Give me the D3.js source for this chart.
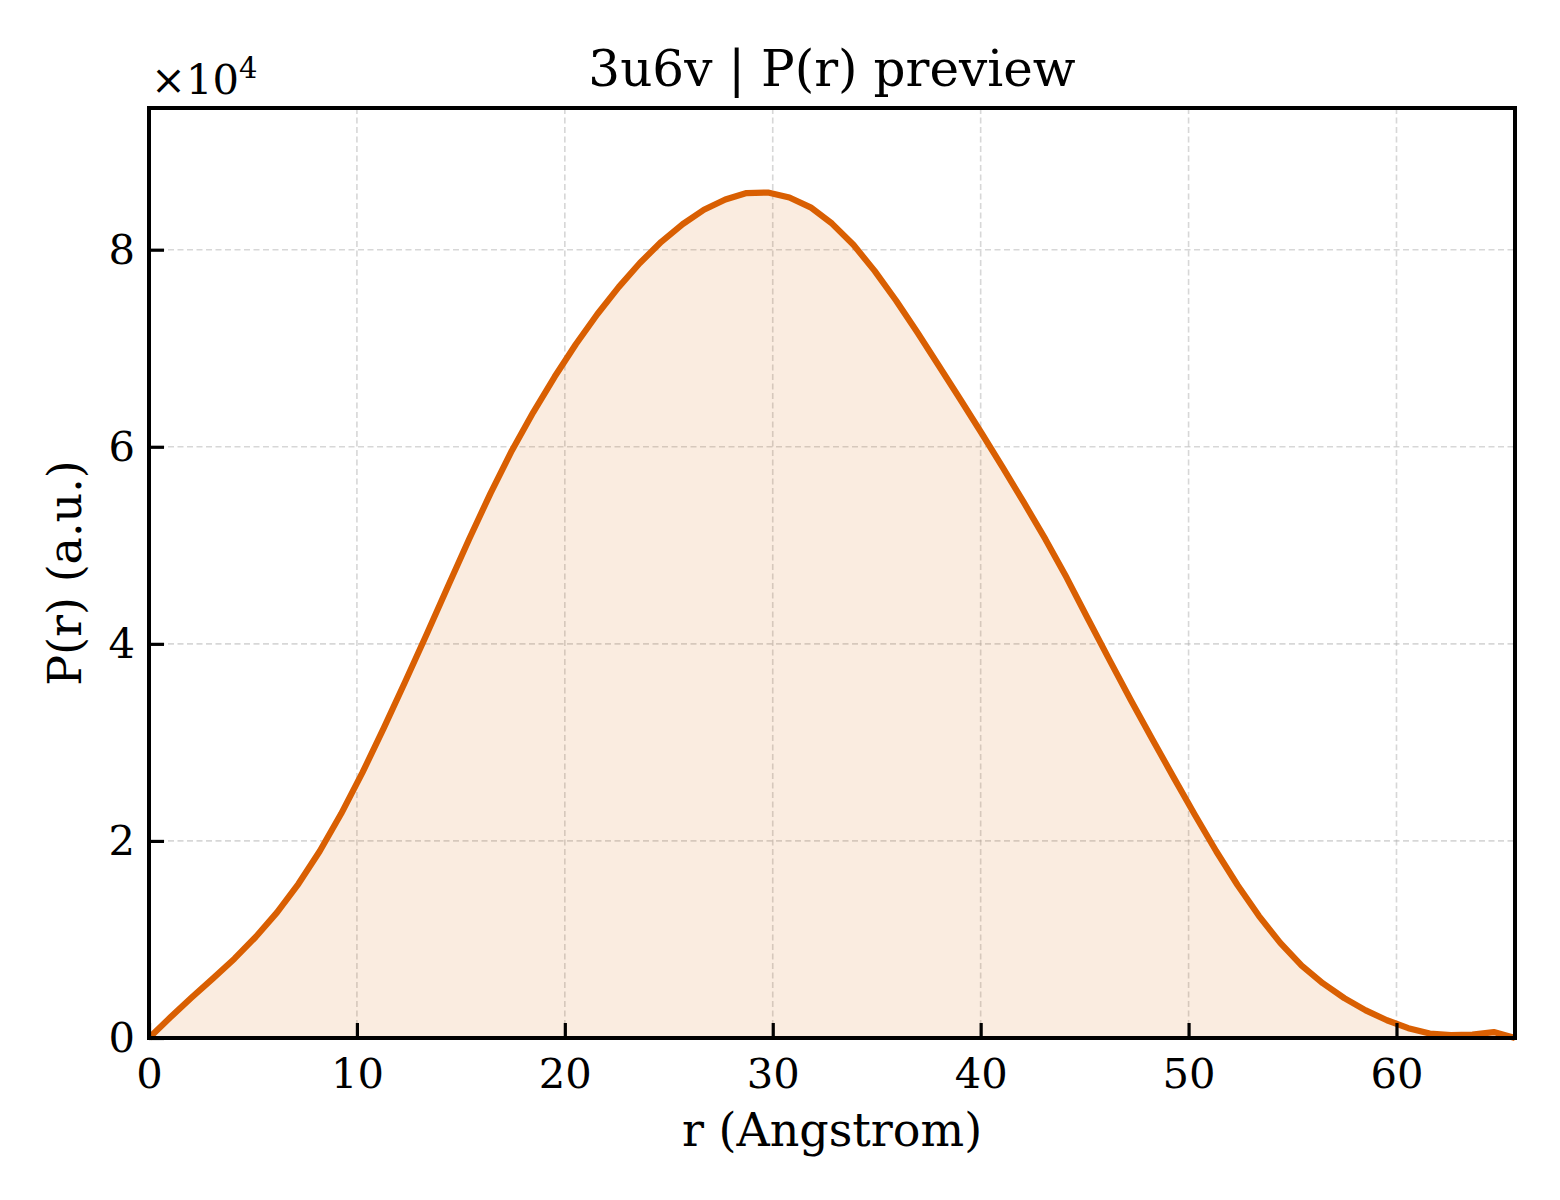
<!DOCTYPE html>
<html>
<head>
<meta charset="utf-8">
<script src="https://cdn.jsdelivr.net/npm/d3@7"></script>
<style>
  body { margin: 0; background: #fff; }
  svg { display: block; }
  text { font-family: "DejaVu Serif", serif; fill: #000; }
</style>
</head>
<body>
<svg id="chart"></svg>
<script>
const rValues = [
  0, 1.03, 2.05, 3.08, 4.11, 5.13, 6.16, 7.19, 8.21, 9.24,
  10.27, 11.29, 12.32, 13.35, 14.37, 15.40, 16.43, 17.45, 18.48, 19.51,
  20.53, 21.56, 22.59, 23.61, 24.64, 25.67, 26.69, 27.72, 28.74, 29.77,
  30.80, 31.82, 32.85, 33.88, 34.90, 35.93, 36.96, 37.98, 39.01, 40.04,
  41.06, 42.09, 43.12, 44.14, 45.17, 46.20, 47.22, 48.25, 49.28, 50.30,
  51.33, 52.36, 53.38, 54.41, 55.44, 56.46, 57.49, 58.52, 59.54, 60.57,
  61.60, 62.62, 63.65, 64.68, 65.70
];
const pValues = [
  0, 2100, 4100, 6050, 8050, 10250, 12750, 15650, 18950, 22750,
  26950, 31450, 36150, 40950, 45800, 50650, 55300, 59600, 63500, 67100,
  70400, 73450, 76200, 78650, 80800, 82600, 84050, 85100, 85750, 85800,
  85300, 84300, 82650, 80500, 77850, 74850, 71600, 68250, 64850, 61400,
  57900, 54300, 50600, 46700, 42500, 38350, 34300, 30350, 26450, 22650,
  18950, 15500, 12400, 9650, 7350, 5550, 4050, 2800, 1800, 1000,
  450, 300, 350, 600, 0
];
const xTicks = [0, 10, 20, 30, 40, 50, 60];
const yTicks = [0, 20000, 40000, 60000, 80000];

const data = rValues.map((r, i) => ({r: r, p: pValues[i]}));

const W = 1560, H = 1200;
const m = {left: 149, right: 1515, top: 108, bottom: 1038};
const lineColor = '#d95f02';

const svg = d3.select('#chart').attr('width', W).attr('height', H);

const x = d3.scaleLinear()
  .domain([0, d3.max(rValues)])
  .range([m.left, m.right]);
const y = d3.scaleLinear()
  .domain([0, d3.max(pValues) * 1.1])
  .range([m.bottom, m.top]);

// grid
const grid = svg.append('g').attr('class', 'grid');
grid.selectAll('.gx')
  .data(xTicks.filter(d => d > 0))
  .enter().append('line')
  .attr('x1', d => x(d)).attr('x2', d => x(d))
  .attr('y1', m.top).attr('y2', m.bottom);
grid.selectAll('.gy')
  .data(yTicks.filter(d => d > 0))
  .enter().append('line')
  .attr('x1', m.left).attr('x2', m.right)
  .attr('y1', d => y(d)).attr('y2', d => y(d));
grid.selectAll('line')
  .attr('stroke', '#b0b0b0')
  .attr('stroke-opacity', 0.5)
  .attr('stroke-width', 1.6)
  .attr('stroke-dasharray', '6,3.5');

// fill + curve
const area = d3.area()
  .x(d => x(d.r))
  .y0(y(0))
  .y1(d => y(d.p));
svg.append('path')
  .datum(data)
  .attr('d', area)
  .attr('fill', lineColor)
  .attr('fill-opacity', 0.12);

const line = d3.line()
  .x(d => x(d.r))
  .y(d => y(d.p));
svg.append('path')
  .datum(data)
  .attr('d', line)
  .attr('fill', 'none')
  .attr('stroke', lineColor)
  .attr('stroke-width', 6.2)
  .attr('stroke-linejoin', 'round');

// axes
const xAxis = svg.append('g')
  .attr('transform', `translate(0, ${m.bottom})`)
  .call(d3.axisBottom(x).tickValues(xTicks).tickFormat(d3.format('d'))
    .tickSizeInner(-15).tickSizeOuter(0).tickPadding(20));
const yAxis = svg.append('g')
  .attr('transform', `translate(${m.left}, 0)`)
  .call(d3.axisLeft(y).tickValues(yTicks).tickFormat(d => d / 10000)
    .tickSizeInner(-15).tickSizeOuter(0).tickPadding(14));

[xAxis, yAxis].forEach(a => {
  a.select('.domain').remove();
  a.selectAll('.tick line').attr('stroke', '#000').attr('stroke-width', 3.2);
  a.selectAll('.tick text')
    .attr('font-family', '"DejaVu Serif", serif')
    .attr('font-size', 41.7)
    .attr('fill', '#000');
});
xAxis.selectAll('.tick text').attr('dy', '0.71em');

// frame
svg.append('rect')
  .attr('x', m.left).attr('y', m.top)
  .attr('width', m.right - m.left).attr('height', m.bottom - m.top)
  .attr('fill', 'none')
  .attr('stroke', '#000')
  .attr('stroke-width', 4);

// offset label
const off = svg.append('text')
  .attr('x', 151).attr('y', 94)
  .attr('font-size', 41.7);
off.append('tspan').text('×10');
off.append('tspan').attr('font-size', 29).attr('dy', -16).text('4');

// title and labels
svg.append('text')
  .attr('x', (m.left + m.right) / 2).attr('y', 86)
  .attr('text-anchor', 'middle')
  .attr('font-size', 50)
  .text('3u6v | P(r) preview');

svg.append('text')
  .attr('x', (m.left + m.right) / 2).attr('y', 1146)
  .attr('text-anchor', 'middle')
  .attr('font-size', 46)
  .text('r (Angstrom)');

svg.append('text')
  .attr('transform', `translate(81, ${(m.top + m.bottom) / 2}) rotate(-90)`)
  .attr('text-anchor', 'middle')
  .attr('font-size', 46)
  .text('P(r) (a.u.)');
</script>
</body>
</html>
